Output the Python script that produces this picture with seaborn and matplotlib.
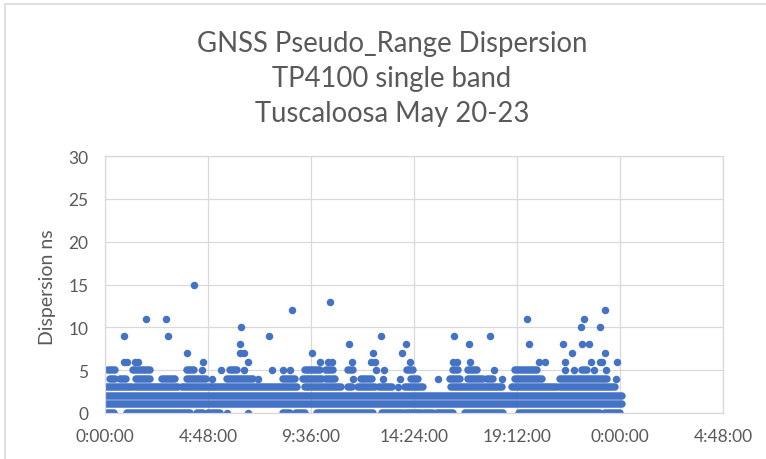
import pandas as pd
import matplotlib
matplotlib.use("Agg")
import matplotlib.pyplot as plt
import seaborn as sns
from matplotlib.ticker import FuncFormatter, MultipleLocator
from matplotlib.patches import Rectangle

# Time of day as a fraction of a day (Excel style), dispersion in ns.
# Dense runs of samples are given as (start, end); lone samples as single times.
runs_0 = [(0.0, 0.018), (0.043, 0.165), (0.178, 0.19), (0.2, 0.223), (0.345, 0.36),
          (0.37, 0.388), (0.411, 0.521), (0.537, 0.576), (0.583, 0.615), (0.621, 0.637),
          (0.644, 0.676), (0.699, 0.773), (0.803, 0.962), (0.971, 1.0)]
runs_1 = [(0.0, 1.003)]
runs_2 = [(0.0, 1.003)]
runs_3 = [(0.0, 0.052), (0.058, 0.142), (0.149, 0.204), (0.207, 0.372), (0.388, 0.459),
          (0.471, 0.479), (0.492, 0.524), (0.533, 0.558), (0.583, 0.618), (0.672, 0.70),
          (0.705, 0.77), (0.79, 0.878), (0.883, 0.99)]
runs_4 = [(0.009, 0.019), (0.03, 0.04), (0.061, 0.087), (0.11, 0.136), (0.16, 0.197),
          (0.236, 0.288), (0.346, 0.369), (0.385, 0.421), (0.43, 0.446), (0.498, 0.518),
          (0.594, 0.608), (0.670, 0.689), (0.705, 0.734), (0.741, 0.754), (0.796, 0.848),
          (0.883, 0.974)]
runs_5 = [(0.006, 0.019), (0.054, 0.087), (0.159, 0.172), (0.243, 0.256), (0.388, 0.417),
          (0.43, 0.443), (0.471, 0.481), (0.586, 0.599), (0.675, 0.686), (0.705, 0.722),
          (0.796, 0.838), (0.926, 0.935)]

dots_0 = [0.236, 0.278]
dots_3 = [0.568]
dots_4 = [0.207, 0.298, 0.481, 0.539, 0.573, 0.647, 0.77, 0.992]
dots_5 = [0.188, 0.225, 0.269, 0.325, 0.346, 0.359, 0.526, 0.542, 0.756, 0.893, 0.911,
          0.95, 0.973]
dots_6 = [0.037, 0.043, 0.058, 0.065, 0.191, 0.278, 0.418, 0.433, 0.440, 0.480, 0.516,
          0.524, 0.592, 0.676, 0.683, 0.709, 0.843, 0.854, 0.893, 0.943, 0.961, 0.966, 0.995]
dots_7 = [0.159, 0.262, 0.270, 0.402, 0.520, 0.576, 0.906, 0.971]
dots_8 = [0.262, 0.473, 0.585, 0.707, 0.824, 0.890, 0.927, 0.940]
dots_9 = [0.036, 0.122, 0.318, 0.536, 0.678, 0.748]
dots_10 = [0.265, 0.924, 0.961]
dots_11 = [0.079, 0.119, 0.820, 0.930]
dots_12 = [0.364, 0.971]
dots_13 = [0.436]
dots_15 = [0.172]

x_ticks = [0.0, 0.2, 0.4, 0.6, 0.8, 1.0, 1.2]

title = "GNSS Pseudo_Range Dispersion\nTP4100 single band\nTuscaloosa May 20-23"
y_label = "Dispersion ns"

# --- build tidy tables ---
runs = {0: runs_0, 1: runs_1, 2: runs_2, 3: runs_3, 4: runs_4, 5: runs_5}
dots = {0: dots_0, 3: dots_3, 4: dots_4, 5: dots_5, 6: dots_6, 7: dots_7, 8: dots_8,
        9: dots_9, 10: dots_10, 11: dots_11, 12: dots_12, 13: dots_13, 15: dots_15}

seg_rows = []
seg_id = 0
for lvl, spans in runs.items():
    for a, b in spans:
        seg_rows.append({"t": a, "disp": lvl, "seg": seg_id})
        seg_rows.append({"t": b, "disp": lvl, "seg": seg_id})
        seg_id += 1
seg_df = pd.DataFrame(seg_rows)

dot_df = pd.DataFrame([{"t": t, "disp": lvl} for lvl, ts in dots.items() for t in ts])

# --- plot ---
sns.set_theme(style="white")
plt.rcParams["font.family"] = ["Lato", "DejaVu Sans"]

blue = "#4472C4"
grey_text = "#595959"
grid_col = "#D9D9D9"

fig = plt.figure(figsize=(7.66, 4.60), dpi=100)
ax = fig.add_axes([105 / 766, 1 - 414 / 460, 618 / 766, 257 / 460])

dot_pt = 5.4
sns.lineplot(data=seg_df, x="t", y="disp", units="seg", estimator=None, sort=False,
             color=blue, linewidth=dot_pt, solid_capstyle="round", legend=False, ax=ax)
sns.scatterplot(data=dot_df, x="t", y="disp", color=blue, s=dot_pt ** 2,
                linewidth=0, legend=False, ax=ax)

ax.set_xlim(0, 1.2)
ax.set_ylim(0, 30)
ax.set_xticks(x_ticks)
ax.yaxis.set_major_locator(MultipleLocator(5))


def day_to_hms(v, pos):
    secs = int(round(v * 86400)) % 86400
    return f"{secs // 3600}:{(secs % 3600) // 60:02d}:{secs % 60:02d}"


ax.xaxis.set_major_formatter(FuncFormatter(day_to_hms))
ax.set_axisbelow(True)
ax.grid(True, color=grid_col, linewidth=0.9)
for sp in ax.spines.values():
    sp.set_color(grid_col)
    sp.set_linewidth(0.9)
ax.tick_params(axis="both", length=0, labelsize=12.5, labelcolor=grey_text)
ax.tick_params(axis="x", pad=11)
ax.tick_params(axis="y", pad=12)
ax.set_xlabel("")
ax.set_ylabel("")

fig.text(47 / 766, 1 - 287 / 460, y_label, rotation=90, ha="center", va="center",
         fontsize=14, color=grey_text)
fig.text(392 / 766, 1 - 79 / 460, title, ha="center", va="center", multialignment="center",
         fontsize=19.8, color=grey_text, linespacing=1.42)

# chart area border
fig.patches.append(Rectangle((5 / 766, -0.1), 1.2, 1 - 5 / 460 + 0.1, transform=fig.transFigure,
                             fill=False, edgecolor=grid_col, linewidth=1.2))

fig.savefig("out.png", dpi=100)
plt.close(fig)
